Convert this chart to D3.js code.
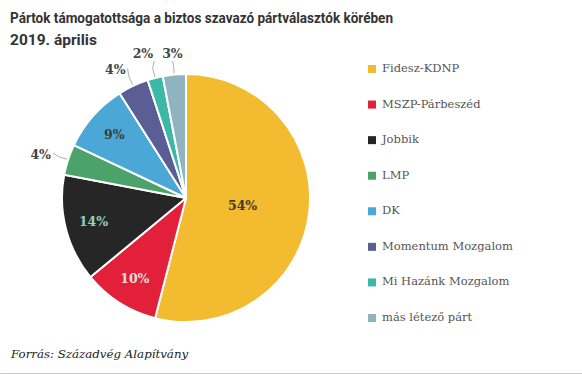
<!DOCTYPE html>
<html>
<head>
<meta charset="utf-8">
<script src="https://cdn.jsdelivr.net/npm/d3@7"></script>
<style>
  body { margin: 0; background: #fff; }
  svg { display: block; }
</style>
</head>
<body>
<div id="chart"></div>
<script>
const parties = ["Fidesz-KDNP", "MSZP-Párbeszéd", "Jobbik", "LMP", "DK", "Momentum Mozgalom", "Mi Hazánk Mozgalom", "más létező párt"];
const shares = [54, 10, 14, 4, 9, 4, 2, 3];
const colors = ["#f2bb30", "#e2203a", "#262626", "#4ba36b", "#4ba7d5", "#5b5d95", "#3bb8a7", "#90b4bf"];
const labelColors = ["#3d3a33", "#e6dede", "#8fd0c6", "#444", "#3b3b3b", "#444", "#444", "#444"];
const titleLines = ["Pártok támogatottsága a biztos szavazó pártválasztók körében", "2019. április"];
const source = "Forrás: Századvég Alapítvány";

function init() {
    const width = 582, height = 377;
    const cx = 186, cy = 198, r = 124;

    const svg = d3.select("#chart").append("svg")
        .attr("width", width)
        .attr("height", height);

    // title
    svg.selectAll("text.title")
        .data(titleLines)
        .join("text")
        .attr("class", "title")
        .attr("x", 10)
        .attr("y", (d, i) => 23 + i * 22)
        .attr("font-family", "Roboto, sans-serif")
        .attr("font-weight", "bold")
        .attr("font-size", 15.5)
        .attr("fill", "#333")
        .attr("textLength", (d, i) => i === 0 ? 383 : null)
        .attr("lengthAdjust", "spacingAndGlyphs")
        .text(d => d);

    const data = parties.map((p, i) => ({ party: p, value: shares[i], i }));

    const pie = d3.pie().sort(null).value(d => d.value);
    const arcs = pie(data);
    const arc = d3.arc().innerRadius(0).outerRadius(r);

    const g = svg.append("g").attr("transform", `translate(${cx},${cy})`);

    g.selectAll("path")
        .data(arcs)
        .join("path")
        .attr("d", arc)
        .attr("fill", d => colors[d.data.i])
        .attr("stroke", "#fff")
        .attr("stroke-width", 2)
        .attr("stroke-linejoin", "round");

    const polar = (a, rad) => [Math.sin(a) * rad, -Math.cos(a) * rad];

    // inside labels for the larger slices
    const inside = arcs.filter(d => d.data.value >= 5);
    g.selectAll("text.in")
        .data(inside)
        .join("text")
        .attr("class", "in")
        .attr("transform", d => {
            const a = (d.startAngle + d.endAngle) / 2;
            const p = polar(a, d.data.value > 30 ? r * 0.46 : r * 0.77);
            return `translate(${p[0]},${p[1]})`;
        })
        .attr("text-anchor", "middle")
        .attr("dy", "0.35em")
        .attr("font-family", "DejaVu Serif, serif")
        .attr("font-weight", "bold")
        .attr("font-size", 12.5)
        .attr("fill", d => labelColors[d.data.i])
        .text(d => d.data.value + "%");

    // outside labels with connectors
    const outside = arcs.filter(d => d.data.value < 5);
    outside.forEach(d => {
        const a = (d.startAngle + d.endAngle) / 2;
        const p0 = polar(a, r + 1);
        const p1 = polar(a, r + 10);
        const top = Math.abs(a - 2 * Math.PI) < 0.35;
        let lp, anchor, end;
        if (top) {
            const q = polar(a, r + 20);
            anchor = q[0] > -20 ? "middle" : "end";
            lp = [q[0] + (anchor === "end" ? 3 : 0), -(r + 16)];
            end = [anchor === "end" ? lp[0] + 1 : lp[0], lp[1] + 3];
        } else {
            lp = polar(a, r + 18);
            anchor = "end";
            end = [lp[0] + 2, lp[1] - 1];
        }
        g.append("path")
            .attr("d", d3.line()([p0, p1, end]))
            .attr("fill", "none")
            .attr("stroke", "#999")
            .attr("stroke-width", 0.8);
        g.append("text")
            .attr("x", lp[0])
            .attr("y", lp[1])
            .attr("dy", top ? "0" : "0.35em")
            .attr("text-anchor", anchor)
            .attr("font-family", "DejaVu Serif, serif")
            .attr("font-weight", "bold")
            .attr("font-size", 12.5)
            .attr("fill", "#444")
            .text(d.data.value + "%");
    });

    // legend
    const y = d3.scalePoint().domain(parties).range([68, 317]);
    const legend = svg.append("g");
    const item = legend.selectAll("g")
        .data(data)
        .join("g")
        .attr("transform", d => `translate(368,${y(d.party)})`);
    item.append("rect")
        .attr("x", 0)
        .attr("y", -3)
        .attr("width", 8)
        .attr("height", 8)
        .attr("fill", d => colors[d.i]);
    item.append("text")
        .attr("x", 14)
        .attr("dy", "0.35em")
        .attr("font-family", "DejaVu Serif, serif")
        .attr("font-size", 11.5)
        .attr("fill", "#555")
        .text(d => d.party);

    // source
    svg.append("text")
        .attr("x", 11)
        .attr("y", 358)
        .attr("font-family", "DejaVu Serif, serif")
        .attr("font-style", "italic")
        .attr("font-size", 11.8)
        .attr("fill", "#222")
        .text(source);

    svg.append("line")
        .attr("x1", 0).attr("x2", width)
        .attr("y1", 373.5).attr("y2", 373.5)
        .attr("stroke", "#ccc")
        .attr("stroke-width", 1);
}

window.onload = init;
</script>
</body>
</html>
